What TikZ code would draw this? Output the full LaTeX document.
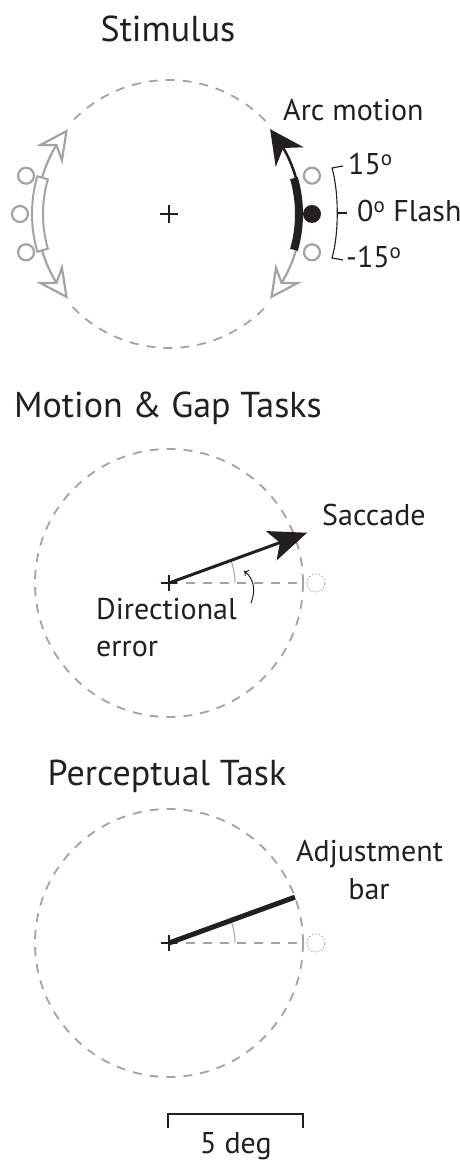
\documentclass[tikz,border=0pt]{standalone}
\usepackage{fontspec}
\setmainfont{PT Sans}
\usetikzlibrary{arrows.meta,bending}
\definecolor{ink}{HTML}{231F20}
\definecolor{lgray}{HTML}{A3A3A3}
\begin{document}
\begin{tikzpicture}[x=1pt,y=1pt,
  title/.style={font=\fontsize{36}{42}\selectfont, text=ink, anchor=base, inner sep=0pt},
  lab/.style={font=\fontsize{30}{35}\selectfont, text=ink, inner sep=0pt},
  dcirc/.style={lgray, line width=1.8pt, dash pattern=on 9pt off 8pt},
  plusmark/.style={ink, line width=2.2pt},
  gring/.style={lgray, line width=2.2pt, fill=white},
  dotring/.style={lgray, line width=1pt, dash pattern=on 1.2pt off 2.2pt},
  anglearc/.style={lgray, line width=1pt},
  blackhead/.style={-{Stealth[length=34pt,width=34pt,inset=11pt,flex]}},
  grayhead/.style={-{Stealth[open,length=32pt,width=32pt,inset=11pt,flex,fill=white]}}
]
\useasboundingbox (0,0) rectangle (460,1160);

% ---------------- Panel 1: Stimulus ----------------
\node[title] (t1) at (168,1118) {Stimulus};
\coordinate (c1) at (169,946);
\draw[dcirc] ([shift={(44:134)}]c1) arc[start angle=44,end angle=136,radius=134];
\draw[dcirc] ([shift={(224:134)}]c1) arc[start angle=224,end angle=316,radius=134];
\draw[ink, line width=1.6pt] ([xshift=-9pt]c1) -- ([xshift=9pt]c1) ([yshift=-9pt]c1) -- ([yshift=9pt]c1);

% right side
\draw[lgray, line width=2.2pt, grayhead] ([shift={(-14:132)}]c1) arc[start angle=-14,end angle=-40,radius=132];
\draw[ink, line width=2.5pt, blackhead] ([shift={(14:132)}]c1) arc[start angle=14,end angle=40,radius=132];
\draw[gring] ([shift={(15:148)}]c1) circle[radius=8];
\draw[gring] ([shift={(-15:148)}]c1) circle[radius=8];
\fill[ink] ([shift={(0:143)}]c1) circle[radius=9];
\draw[ink, line width=8pt] ([shift={(-16:130)}]c1) arc[start angle=-16,end angle=16,radius=130];

% left side
\draw[lgray, line width=2.2pt, grayhead] ([shift={(164:132)}]c1) arc[start angle=164,end angle=140,radius=132];
\draw[lgray, line width=2.2pt, grayhead] ([shift={(196:132)}]c1) arc[start angle=196,end angle=220,radius=132];
\draw[gring] ([shift={(165:148)}]c1) circle[radius=8];
\draw[gring] ([shift={(180:149)}]c1) circle[radius=8];
\draw[gring] ([shift={(195:148)}]c1) circle[radius=8];
\draw[lgray, line width=2pt, fill=white]
  ([shift={(164:126)}]c1) arc[start angle=164,end angle=196,radius=126]
  -- ([shift={(196:137)}]c1) arc[start angle=196,end angle=164,radius=137] -- cycle;

% bracket
\coordinate (b1) at (343,994);
\coordinate (b2) at (332,992);
\coordinate (b3) at (332,902);
\coordinate (b4) at (343,900);
\coordinate (bm) at (337,947);
\coordinate (bm2) at (347,947);
\draw[ink, line width=1.1pt] (b1) -- (b2) .. controls (339,968) and (339,926) .. (b3) -- (b4);
\draw[ink, line width=1.1pt] (bm) -- (bm2);

\node[lab, anchor=base west] (arc) at (283,1039) {Arc motion};
\node[lab, anchor=base west] (p15) at (348,985) {15\textsuperscript{o}};
\node[lab, anchor=base west] (flash) at (357,938) {0\textsuperscript{o} Flash};
\node[lab, anchor=base west] (m15) at (346,892) {-15\textsuperscript{o}};

% ---------------- Panel 2: Motion & Gap ----------------
\node[title] (t2) at (168,742) {Motion \& Gap Tasks};
\coordinate (c2) at (169,577);
\draw[dcirc] (c2) circle[radius=134];
\coordinate (h2) at (302,577);
\draw[lgray, line width=1.8pt, dash pattern=on 9pt off 8pt] (c2) -- (h2);
\draw[dotring] (316,577) circle[radius=9];
\draw[anglearc] ([shift={(0:66)}]c2) arc[start angle=0,end angle=20,radius=66];
\coordinate (s2) at ([shift={(20:147)}]c2);
\draw[ink, line width=3pt, -{Stealth[length=38pt,width=31pt,inset=9pt]}] (c2) -- (s2);
\draw[plusmark] ([xshift=-8pt]c2) -- ([xshift=8pt]c2) ([yshift=-8pt]c2) -- ([yshift=8pt]c2);
\coordinate (e1) at (251,557);
\coordinate (e2) at (244,589);
\draw[ink, line width=1pt, -{To[length=4pt,width=7pt]}] (e1) .. controls (256,570) and (254,582) .. (e2);
\node[lab, anchor=base west] (sac) at (322,634) {Saccade};
\node[lab, anchor=base west] (dir) at (96,540) {Directional};
\node[lab, anchor=base west] (err) at (96,503) {error};

% ---------------- Panel 3: Perceptual ----------------
\node[title] (t3) at (167,374) {Perceptual Task};
\coordinate (c3) at (169,217);
\draw[dcirc] (c3) circle[radius=134];
\coordinate (h3) at (302,217);
\draw[lgray, line width=1.8pt, dash pattern=on 9pt off 8pt] (c3) -- (h3);
\draw[dotring] (316,217) circle[radius=9];
\draw[anglearc] ([shift={(0:66)}]c3) arc[start angle=0,end angle=20,radius=66];
\coordinate (a3) at ([shift={(20:134)}]c3);
\draw[ink, line width=5pt] (c3) -- (a3);
\draw[plusmark] ([xshift=-8pt]c3) -- ([xshift=8pt]c3) ([yshift=-8pt]c3) -- ([yshift=8pt]c3);
\node[lab, anchor=base] (adj) at (369.5,298) {Adjustment};
\node[lab, anchor=base] (bar) at (369,260) {bar};

% scale bar
\coordinate (sb1) at (168,32);
\coordinate (sb2) at (168,46);
\coordinate (sb3) at (303,46);
\coordinate (sb4) at (303,32);
\draw[ink, line width=2pt] (sb1) -- (sb2) -- (sb3) -- (sb4);
\node[lab, anchor=base] (deg) at (236,6) {5 deg};
\end{tikzpicture}
\end{document}
